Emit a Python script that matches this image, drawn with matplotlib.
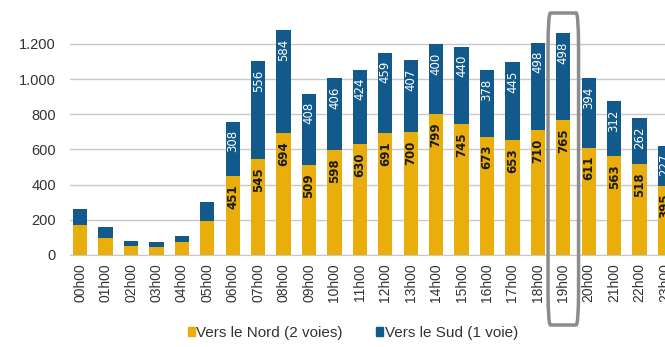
import numpy as np
import matplotlib.pyplot as plt
import matplotlib.transforms as mtransforms
from matplotlib.patches import FancyBboxPatch, Patch

plt.rcParams['font.family'] = ['Liberation Sans', 'DejaVu Sans']

hours = ["%02dh00" % h for h in range(24)]
nord = [171, 95, 51, 48, 72, 196, 451, 545, 694, 509, 598, 630,
        691, 700, 799, 745, 673, 653, 710, 765, 611, 563, 518, 395]
sud = [90, 63, 31, 28, 37, 105, 308, 556, 584, 408, 406, 424,
       459, 407, 400, 440, 378, 445, 498, 498, 394, 312, 262, 227]
labelled_from = 6  # no value labels on the night hours
highlight = "19h00"

yellow = "#E9AE0C"
blue = "#125A8C"

fig = plt.figure(figsize=(6.65, 3.47), dpi=100)
ax = fig.add_axes([70 / 665, 92 / 347, 595 / 665, 255 / 347])

x = np.arange(len(hours))
b1 = ax.bar(x, nord, width=0.56, color=yellow, zorder=3)
b2 = ax.bar(x, sud, width=0.56, bottom=nord, color=blue, zorder=3)

for i in range(labelled_from, len(hours)):
    ax.annotate(str(nord[i]), (x[i], nord[i]), xytext=(0, -6), textcoords="offset points",
                rotation=90, ha="center", va="top", fontsize=8.5, fontweight="bold",
                family="DejaVu Sans", color="#1a1a1a", zorder=4)
    ax.annotate(str(sud[i]), (x[i], nord[i] + sud[i]), xytext=(0, -6), textcoords="offset points",
                rotation=90, ha="center", va="top", fontsize=8.5,
                family="DejaVu Sans", color="white", zorder=4)

ax.set_xlim(-0.4, 22.94)
ax.set_ylim(0, 1450)
ax.set_yticks(range(0, 1201, 200))
ax.set_yticklabels(["0", "200", "400", "600", "800", "1.000", "1.200"])
ax.yaxis.grid(True, color="#c8c8c8", linewidth=1, zorder=0)
ax.set_xticks(x)
ax.set_xticklabels(hours, rotation=90, fontsize=10, color="#333333")
ax.tick_params(axis="y", length=0, labelsize=10.5, colors="#333333", pad=10)
ax.tick_params(axis="x", length=0, pad=6)
for s in ["top", "right", "left"]:
    ax.spines[s].set_visible(False)
ax.spines["bottom"].set_color("#c8c8c8")

# frame around the evening peak hour
k = hours.index(highlight)
trans = mtransforms.blended_transform_factory(ax.transData, fig.transFigure)
box = FancyBboxPatch((k - 0.6, 1 - 325 / 347), 1.2, 312 / 347,
                     boxstyle="round,pad=0,rounding_size=0.1",
                     transform=trans, fill=False, edgecolor="#8c8c8c",
                     linewidth=2.5, clip_on=False, zorder=5)
fig.add_artist(box)

handles = [Patch(color=yellow, label="Vers le Nord (2 voies)"),
           Patch(color=blue, label="Vers le Sud (1 voie)")]
fig.legend(handles=handles, loc="center", bbox_to_anchor=(353 / 665, 1 - 333 / 347),
           ncol=2, frameon=False, fontsize=11, handlelength=0.45, handleheight=0.45,
           handletextpad=0.1, columnspacing=2.2, labelcolor="#333333")

fig.savefig("out.png", dpi=100)
